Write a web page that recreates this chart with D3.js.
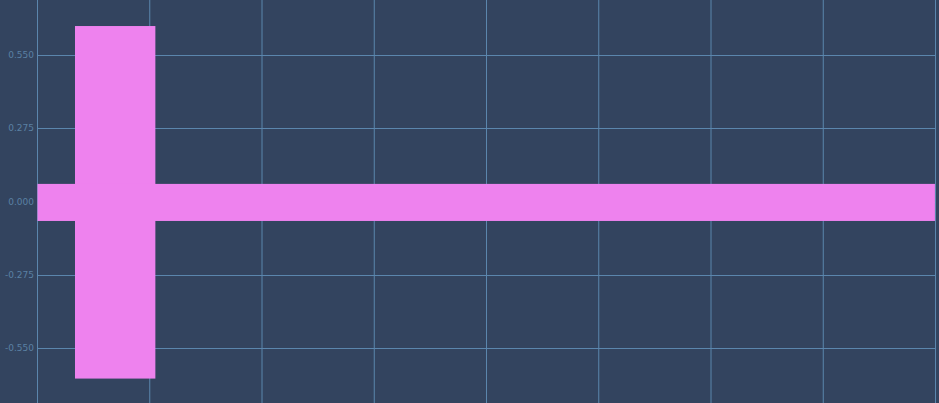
<!DOCTYPE html>
<html>
<head>
<meta charset="utf-8">
<title>Bars</title>
<script src="https://cdn.jsdelivr.net/npm/d3@7"></script>
<style>
    html, body { margin: 0; padding: 0; background: #33445f; }
    svg { display: block; }
</style>
</head>
<body>
<svg id="chart"></svg>
<script>
    // data
    const rectNames = ['column', 'band'];
    const xStart = [0.334, 0];
    const xEnd = [1.05, 7.995];
    const yLow = [-0.664, -0.073];
    const yHigh = [0.658, 0.066];

    const xTicks = [0, 1, 2, 3, 4, 5, 6, 7, 8];
    const yTicks = [-0.55, -0.275, 0, 0.275, 0.55];

    const W = 939, H = 403;
    const left = 37.5, right = 935.5;

    const svg = d3.select('#chart').attr('width', W).attr('height', H);
    svg.append('rect').attr('width', W).attr('height', H).attr('fill', '#33445f');

    const x = d3.scaleLinear().domain([0, 8]).range([left, right]);
    const y = d3.scaleLinear().domain([-0.7556, 0.7556]).range([H, 0]);

    /// grid
    svg.append('g')
        .selectAll('line.v')
        .data(xTicks)
        .join('line')
        .attr('x1', d => x(d)).attr('x2', d => x(d))
        .attr('y1', 0).attr('y2', H)
        .attr('stroke', '#5b86ad').attr('stroke-width', 1);

    svg.append('g')
        .selectAll('line.h')
        .data(yTicks)
        .join('line')
        .attr('x1', left).attr('x2', right)
        .attr('y1', d => Math.round(y(d)) + 0.5).attr('y2', d => Math.round(y(d)) + 0.5)
        .attr('stroke', '#5b86ad').attr('stroke-width', 1);

    /// y labels (plain hyphen for negatives, like the original)
    const fmt = d3.format('.3f');
    svg.append('g')
        .selectAll('text')
        .data(yTicks)
        .join('text')
        .attr('x', 34)
        .attr('y', d => y(d))
        .attr('dy', '0.35em')
        .attr('text-anchor', 'end')
        .attr('fill', '#5a80a3')
        .style('font-family', '"DejaVu Sans", sans-serif')
        .style('font-size', '9px')
        .text(d => fmt(d).replace('\u2212', '-'));

    /// bars
    svg.append('g')
        .selectAll('rect')
        .data(rectNames.map((n, i) => ({n, x0: xStart[i], x1: xEnd[i], y0: yLow[i], y1: yHigh[i]})))
        .join('rect')
        .attr('x', d => x(d.x0))
        .attr('width', d => x(d.x1) - x(d.x0))
        .attr('y', d => y(d.y1))
        .attr('height', d => y(d.y0) - y(d.y1))
        .attr('fill', '#ee82ee');
</script>
</body>
</html>
